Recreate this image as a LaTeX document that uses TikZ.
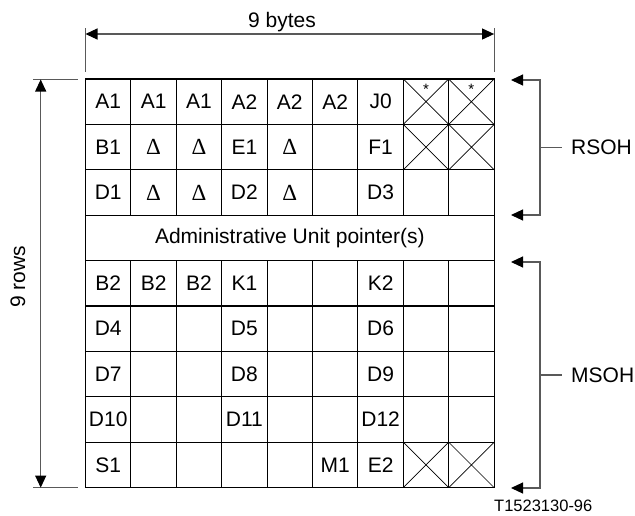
\documentclass[tikz,border=0pt]{standalone}
\usepackage{fontspec}
\setmainfont{Liberation Sans}
\newfontfamily\serifdelta{Liberation Serif}
\usetikzlibrary{arrows.meta}
\newcommand\dl{{\serifdelta\fontsize{23}{26}\selectfont Δ}}
\begin{document}
\begin{tikzpicture}[x=1pt,y=-1pt,
  cell/.style={draw=black, line width=1.1pt, minimum width=45.4pt, minimum height=45.4pt,
    inner sep=0pt, outer sep=0pt, anchor=north west, font=\fontsize{21}{25}\selectfont},
  wide/.style={cell, minimum width=408.6pt},
  cross/.style={line width=0.7pt},
  star/.style={inner sep=0pt, anchor=north, font=\fontsize{15}{17}\selectfont},
  dim/.style={draw=black!65, line width=1.1pt},
  dimarrow/.style={dim, {Triangle[length=12pt,width=11pt,color=black]}-{Triangle[length=12pt,width=11pt,color=black]}},
  brack/.style={dim, -{Triangle[length=12pt,width=11pt,color=black]}},
  lbl/.style={inner sep=0pt, font=\fontsize{21}{25}\selectfont}
]
\useasboundingbox (0,0) rectangle (635,515);

% grid cells
\foreach \r/\row in {1/{A1,A1,A1,A2,A2,A2,J0,{},{}},
                     2/{B1,\dl,\dl,E1,\dl,{},F1,{},{}},
                     3/{D1,\dl,\dl,D2,\dl,{},D3,{},{}},
                     5/{B2,B2,B2,K1,{},{},K2,{},{}},
                     6/{D4,{},{},D5,{},{},D6,{},{}},
                     7/{D7,{},{},D8,{},{},D9,{},{}},
                     8/{D10,{},{},D11,{},{},D12,{},{}},
                     9/{S1,{},{},{},{},M1,E2,{},{}}}{
  \foreach \t [count=\c] in \row {
    \node[cell] (c\r-\c) at ({85.5+45.4*(\c-1)},{79+45.4*(\r-1)}) {\t};
  }
}
\node[wide] (au) at (85.5,215.2) {Administrative Unit pointer(s)};

% crossed cells
\foreach \n in {c1-8,c1-9,c2-8,c2-9,c9-8,c9-9}{
  \draw[cross] (\n.north west) -- (\n.south east) (\n.north east) -- (\n.south west);
}
\node[star] (s8) at ([yshift=-5pt]c1-8.north) {*};
\node[star] (s9) at ([yshift=-5pt]c1-9.north) {*};

% 9 bytes
\coordinate (bl) at (85.5,34);
\coordinate (br) at (494.1,34);
\draw[dim] (85.5,28) -- (85.5,72);
\draw[dim] (494.1,28) -- (494.1,72);
\draw[dimarrow] (bl) -- (br);
\node[lbl, anchor=base] (bytes) at (282,27) {9 bytes};

% 9 rows
\coordinate (rt) at (40.7,79.5);
\coordinate (rb) at (40.7,487.6);
\draw[dim] (33,79.5) -- (78,79.5);
\draw[dim] (33,487.6) -- (78,487.6);
\draw[dimarrow] (rt) -- (rb);
\node[lbl, anchor=base, rotate=90] (rows) at (25,277) {9 rows};

% RSOH
\coordinate (rs) at (540,147.5);
\coordinate (rs1) at (511,80);
\coordinate (rs2) at (511,215);
\draw[brack] (rs) |- (rs1);
\draw[brack] (rs) |- (rs2);
\node[lbl, anchor=west] (rsoh) at (571,147.5) {RSOH};
\draw[dim] (rs) -- (rsoh.west -| 562,0);

% MSOH
\coordinate (ms) at (540,375);
\coordinate (ms1) at (511,262);
\coordinate (ms2) at (511,488);
\draw[brack] (ms) |- (ms1);
\draw[brack] (ms) |- (ms2);
\node[lbl, anchor=west] (msoh) at (571,375) {MSOH};
\draw[dim] (ms) -- (msoh.west -| 562,0);

% figure id
\node[inner sep=0pt, anchor=base west, font=\fontsize{16.5}{19}\selectfont] (fid) at (494,511) {T1523130-96};
\end{tikzpicture}
\end{document}
